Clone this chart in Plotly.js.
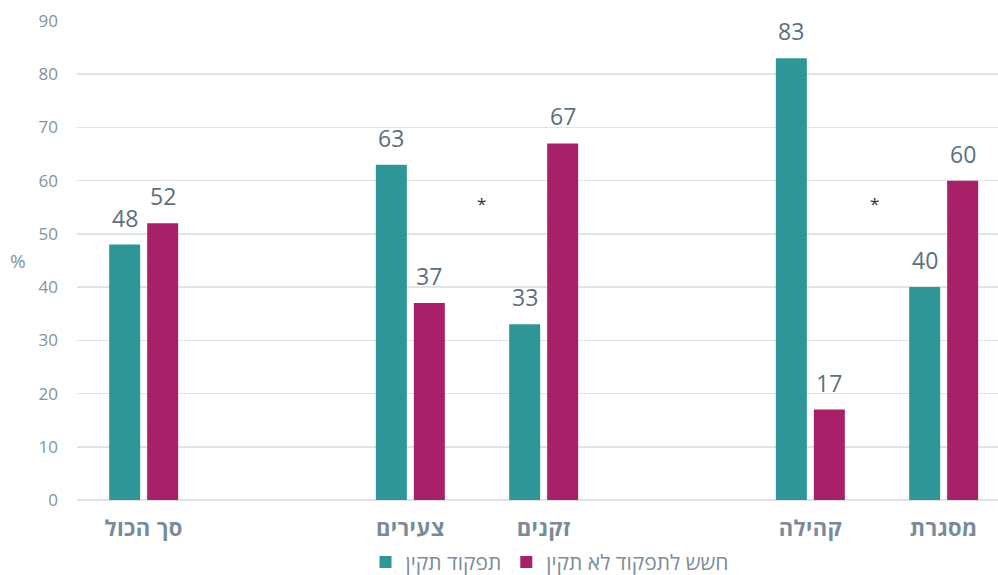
<!DOCTYPE html>
<html>
<head>
<meta charset="utf-8">
<script src="https://cdn.plot.ly/plotly-3.0.1.min.js"></script>
<style>
html,body{margin:0;padding:0;background:#fff;}
#chart{width:998px;height:575px;}
#chart .xtick text{letter-spacing:0.4px;}
</style>
</head>
<body>
<div id="chart"></div>
<script>
// Categories (blank slots are spacer categories)
const categories = ['סך הכול', ' ', 'צעירים', 'זקנים', '  ', 'קהילה', 'מסגרת'];
const seriesNames = ['תפקוד תקין', 'חשש לתפקוד לא תקין'];
const normalValues = [48, null, 63, 33, null, 83, 40];
const concernValues = [52, null, 37, 67, null, 17, 60];
// Significance markers (between groups)
const sigText = ['*', '*'];
const sigX = [2.53, 5.48];
const sigY = [55.8, 55.8];

const colors = ['#2E9696', '#A82068'];
const labelColor = '#5B6F80';
const axisColor = '#7D8D9C';
const font = 'Open Sans, Segoe UI, Arial, sans-serif';

const data = [normalValues, concernValues].map((vals, s) => ({
  type: 'bar',
  name: seriesNames[s],
  x: categories,
  y: vals,
  marker: {color: colors[s]},
  hoverinfo: 'skip'
}));

const annotations = [];
[normalValues, concernValues].forEach((vals, s) => {
  vals.forEach((v, i) => {
    if (v === null) return;
    annotations.push({
      x: categories[i], y: v, xref: 'x', yref: 'y',
      text: String(v), showarrow: false,
      xshift: s === 0 ? -19 : 19, yshift: 9,
      yanchor: 'bottom',
      font: {family: font, size: 23, color: labelColor}
    });
  });
});
sigX.forEach((x, i) => {
  annotations.push({
    x: x, y: sigY[i], xref: 'x', yref: 'y', text: sigText[i], showarrow: false,
    yanchor: 'middle', font: {family: font, size: 17, color: '#333'}
  });
});
annotations.push({
  xref: 'paper', yref: 'paper', x: -0.064, y: 0.5, text: '%', showarrow: false,
  xanchor: 'center', yanchor: 'middle',
  font: {family: font, size: 19, color: '#8292A1'}
});

const layout = {
  width: 998, height: 575,
  margin: {l: 77, r: 0, t: 21, b: 75, pad: 0},
  paper_bgcolor: '#fff', plot_bgcolor: '#fff',
  barmode: 'group', bargap: 0.43, bargroupgap: 0.184,
  font: {family: font, color: axisColor},
  xaxis: {
    type: 'category', categoryorder: 'array', categoryarray: categories,
    range: [-0.5, 6.4075], showgrid: false, showline: false, zeroline: false,
    ticks: '', ticklabelstandoff: 13, automargin: false,
    tickfont: {family: font, size: 22, color: '#7A8A98', weight: 'bold'}
  },
  yaxis: {
    range: [0, 90], dtick: 10, showgrid: true, gridcolor: '#DEE4E9', gridwidth: 1.5,
    zeroline: true, zerolinecolor: '#DEE4E9', zerolinewidth: 1.5,
    showline: false, ticks: '', ticklabelstandoff: 18, automargin: false,
    tickfont: {family: font, size: 17, color: '#8292A1'}
  },
  showlegend: true,
  legend: {
    orientation: 'h', x: 0.5136, xanchor: 'center', xref: 'paper',
    yref: 'container', y: 0.022, yanchor: 'middle',
    font: {family: font, size: 21, color: '#7D8D9C'}, itemclick: false
  },
  annotations: annotations
};

Plotly.newPlot('chart', data, layout, {displayModeBar: false, staticPlot: true});
</script>
</body>
</html>
